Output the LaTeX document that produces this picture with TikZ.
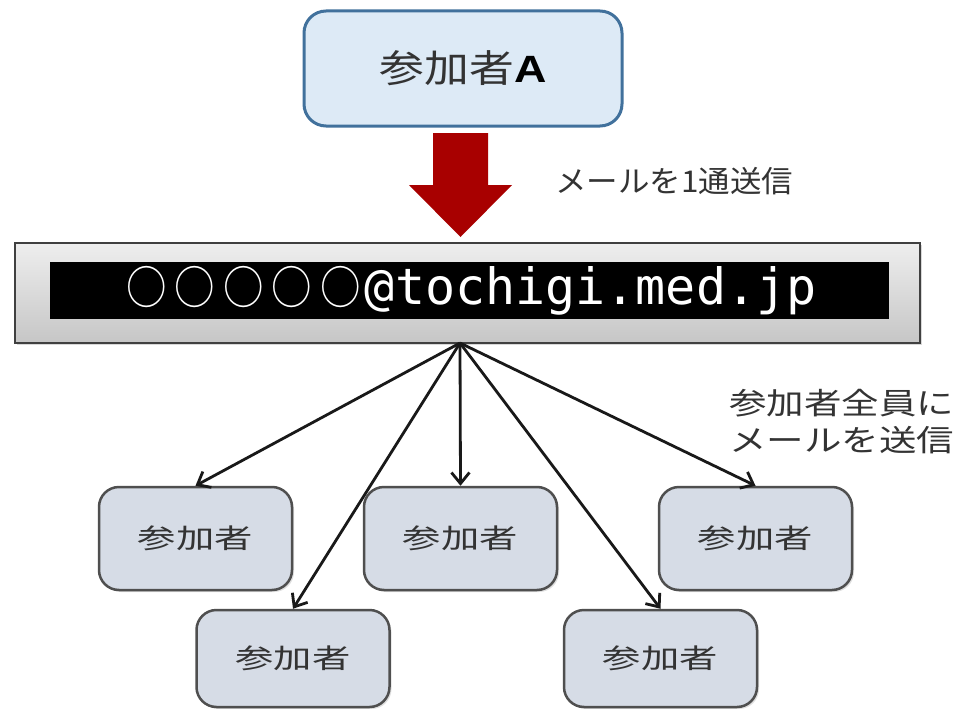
\documentclass[tikz,border=0pt]{standalone}
\usepackage{fontspec}
\usepackage{graphicx}
\usetikzlibrary{arrows.meta,shadows,calc}
\newfontfamily\jp{Noto Sans CJK JP}
\newfontfamily\mono{DejaVu Sans Mono}
\newfontfamily\lsans{Liberation Sans}
\definecolor{topfill}{HTML}{DDEAF6}
\definecolor{topdraw}{HTML}{41719C}
\definecolor{pfill}{HTML}{D6DCE6}
\definecolor{pdraw}{HTML}{4F4F4F}
\definecolor{txt}{HTML}{333333}
\definecolor{darkred}{HTML}{A80000}
\definecolor{graytop}{HTML}{EEEEEE}
\definecolor{graybot}{HTML}{C6C6C6}
\newcommand{\circg}{\makebox[48.5pt]{\scalebox{0.88}[1]{○}}}
\begin{document}
\begin{tikzpicture}[x=1pt,y=-1pt,
  pbox/.style={draw=pdraw, line width=2.5pt, fill=pfill, rounded corners=20pt,
    minimum width=193pt, minimum height=103pt, inner sep=0pt, text=txt,
    font=\jp\fontsize{27}{27}\selectfont,
    drop shadow={opacity=0.25, shadow xshift=2pt, shadow yshift=-2pt}},
  conn/.style={line width=2.8pt, draw=black!90, -{Straight Barb[length=11pt,width=18pt,line width=2.8pt]}},
  lbl/.style={text=txt, inner sep=0pt}
]
\useasboundingbox (0,0) rectangle (964,709);
\fill[white] (0,0) rectangle (964,709);

% top participant A
\node[draw=topdraw, line width=3pt, fill=topfill, rounded corners=22pt,
      minimum width=318pt, minimum height=115pt, inner sep=0pt, text=txt] (top) at (463,68.5)
  {\jp\fontsize{38}{38}\selectfont\scalebox{1.18}[1]{参加者{\lsans\bfseries\color{black}A}}};

% red block arrow
\fill[darkred] (433,133) -- (488,133) -- (488,185) -- (512,185) -- (460.5,237) -- (409,185) -- (433,185) -- cycle;
\node[lbl, anchor=west, font=\jp\fontsize{30}{30}\selectfont] (lab1) at (555,181)
  {\scalebox{1.05}[1]{メールを1通送信}};

% mailing list box
\node[draw=black!75, line width=2pt, top color=graytop, bottom color=graybot,
      minimum width=905pt, minimum height=100pt, inner sep=0pt,
      drop shadow={opacity=0.3, shadow xshift=2pt, shadow yshift=-2pt}] (mid) at (467.5,293) {};
\node[fill=black, text=white, minimum width=839pt, minimum height=57pt, inner sep=0pt] (addr) at (469.5,290.5)
  {{\jp\fontsize{46}{46}\selectfont\circg\circg\circg\circg\circg}{\mono\fontsize{50}{50}\selectfont @tochigi.med.jp}};

% participants
\node[pbox] (p1) at (195.5,538.5) {\scalebox{1.42}[1]{参加者}};
\node[pbox] (p3) at (460.5,538.5) {\scalebox{1.42}[1]{参加者}};
\node[pbox] (p4) at (755.5,538.5) {\scalebox{1.42}[1]{参加者}};
\node[pbox, minimum height=97pt] (p2) at (293,658.5) {\scalebox{1.42}[1]{参加者}};
\node[pbox, minimum height=97pt] (p5) at (660.5,658.5) {\scalebox{1.42}[1]{参加者}};

% label right
\node[lbl, anchor=west, font=\jp\fontsize{30}{30}\selectfont] (lab2a) at (729,403)
  {\scalebox{1.25}[1]{参加者全員に}};
\node[lbl, anchor=west, font=\jp\fontsize{30}{30}\selectfont] (lab2b) at (729,440)
  {\scalebox{1.25}[1]{メールを送信}};

% fan-out connectors
\coordinate (fan) at (460,343);
\draw[conn] (fan) -- (p1.north);
\draw[conn] (fan) -- (p2.north);
\draw[conn] (fan) -- (p3.north);
\draw[conn] (fan) -- (p5.north);
\draw[conn] (fan) -- (p4.north);
\end{tikzpicture}
\end{document}
